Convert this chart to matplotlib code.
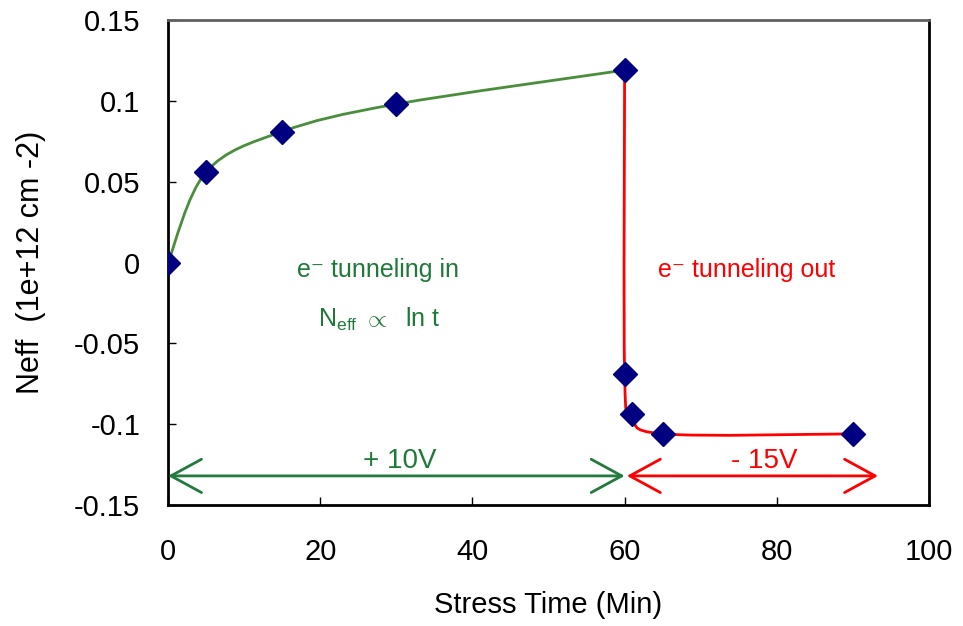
import numpy as np
import matplotlib
matplotlib.use('Agg')
from matplotlib import pyplot as plt
from matplotlib.path import Path
from matplotlib.patches import PathPatch

plt.rcParams['font.family'] = ['Liberation Sans', 'DejaVu Sans']
plt.rcParams['mathtext.fontset'] = 'custom'
plt.rcParams['mathtext.rm'] = 'Liberation Sans'
plt.rcParams['mathtext.it'] = 'Liberation Sans:italic'

# tunneling in (+10V)
t_in = [0, 5, 15, 30, 60]
n_in = [0.0, 0.056, 0.081, 0.098, 0.119]
# tunneling out (-15V)
t_out = [60, 60, 61, 65, 90]
n_out = [0.119, -0.069, -0.094, -0.106, -0.106]

x_ticks = [0, 20, 40, 60, 80, 100]
y_ticks = [-0.15, -0.1, -0.05, 0, 0.05, 0.1, 0.15]
y_labels = ['-0.15', '-0.1', '-0.05', '0', '0.05', '0.1', '0.15']

green_line = '#4a8e3c'
green_text = '#1f7a3a'
red = '#ff0000'
navy = '#000080'


def smooth_path(xs, ys):
    # Excel-like smoothed line: cubic bezier through the points
    p = np.column_stack([xs, ys]).astype(float)
    verts = [p[0]]
    codes = [Path.MOVETO]
    for i in range(len(p) - 1):
        p0 = p[i - 1] if i > 0 else p[i]
        p1 = p[i]
        p2 = p[i + 1]
        p3 = p[i + 2] if i + 2 < len(p) else p[i + 1]
        c1 = p1 + (p2 - p0) / 6
        c2 = p2 - (p3 - p1) / 6
        verts += [c1, c2, p2]
        codes += [Path.CURVE4] * 3
    return Path(verts, codes)


fig = plt.figure(figsize=(9.63, 6.26), dpi=100)
ax = fig.add_axes([0.1745, 0.1933, 0.7902, 0.7747])

ax.add_patch(PathPatch(smooth_path(t_in, n_in), fill=False, ec=green_line, lw=2, zorder=2))
ax.add_patch(PathPatch(smooth_path(t_out, n_out), fill=False, ec=red, lw=2, zorder=2))

ax.plot(t_in, n_in, 'D', color=navy, ms=12, zorder=3)
ax.plot(t_out[1:], n_out[1:], 'D', color=navy, ms=12, zorder=3)

ax.annotate('', xy=(0, -0.132), xytext=(60, -0.132),
            arrowprops=dict(arrowstyle='<->,head_length=1.1,head_width=0.6',
                            color='#237a3e', lw=2, mutation_scale=20,
                            shrinkA=0, shrinkB=0))
ax.annotate('', xy=(60.3, -0.132), xytext=(93.3, -0.132),
            arrowprops=dict(arrowstyle='<->,head_length=1.1,head_width=0.6',
                            color=red, lw=2, mutation_scale=20,
                            shrinkA=0, shrinkB=0))

ax.text(30.4, -0.123, '+ 10V', color=green_text, fontsize=20, ha='center', va='center')
ax.text(78.3, -0.123, '- 15V', color=red, fontsize=20, ha='center', va='center')
ax.text(27.6, -0.0046, 'e\u207b tunneling in', color=green_text, fontsize=18,
        ha='center', va='center')
ax.text(27.8, -0.035, r'N$_{\mathrm{eff}}$ $\propto$  ln t', color=green_text, fontsize=18,
        ha='center', va='center')
ax.text(76, -0.0046, 'e\u207b tunneling out', color=red, fontsize=18,
        ha='center', va='center')

ax.set_xlim(0, 100)
ax.set_ylim(-0.15, 0.15)
ax.set_xticks(x_ticks)
ax.set_yticks(y_ticks)
ax.set_yticklabels(y_labels)
ax.tick_params(direction='in', length=6, width=1, labelsize=21)
ax.tick_params(axis='x', pad=24)
ax.tick_params(axis='y', pad=20)
ax.set_xlabel('Stress Time (Min)', fontsize=21, labelpad=18)
ax.set_ylabel('Neff  (1e+12 cm -2)', fontsize=22, labelpad=20)

for s in ['left', 'bottom', 'right']:
    ax.spines[s].set_linewidth(2)
    ax.spines[s].set_color('black')
ax.spines['top'].set_linewidth(2)
ax.spines['top'].set_color('#606060')

fig.savefig('out.png', dpi=100)
